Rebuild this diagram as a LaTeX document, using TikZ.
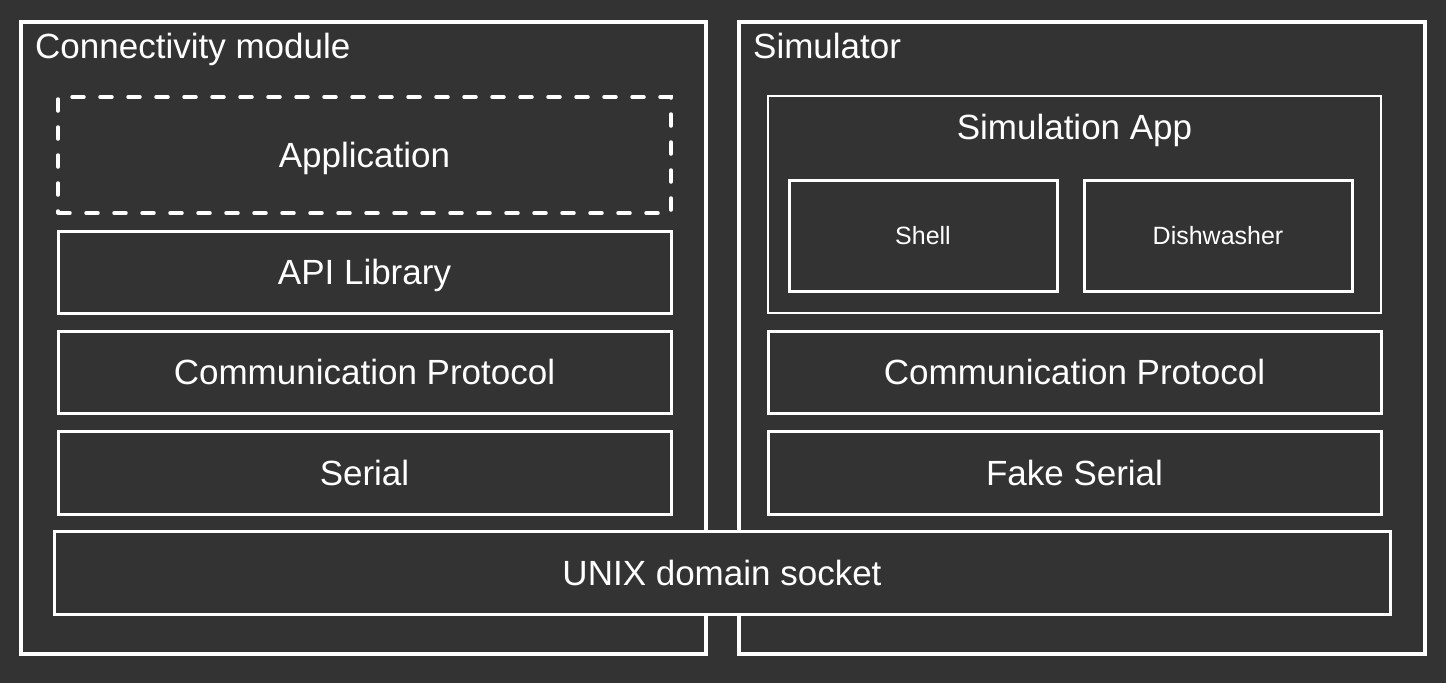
\documentclass[tikz,border=0pt]{standalone}
\usepackage{fontspec}
\setmainfont{Liberation Sans}
\usepackage{tikz}
\usetikzlibrary{positioning,backgrounds}

\definecolor{bgcol}{HTML}{333333}

\tikzset{
	outerbox/.style={draw=white, line width=4pt},
	layer/.style={draw=white, line width=3pt, text=white, inner sep=0pt, outer sep=0pt,
		minimum width=613pt, minimum height=82pt, text height=25pt, text depth=0pt,
		font=\fontsize{35}{40}\selectfont},
	smallbox/.style={layer, minimum width=268pt, minimum height=111pt, text height=18pt,
		font=\fontsize{25}{30}\selectfont},
	title/.style={text=white, inner sep=0pt, font=\fontsize{35}{40}\selectfont}
}

\begin{document}
\begin{tikzpicture}[x=1pt, y=-1pt]
			% background and page size
			\fill[bgcol] (0, 0) rectangle (1446, 683);
			\useasboundingbox (0, 0) rectangle (1446, 683);
			
			% the two outer frames
			\draw[outerbox] (21, 22) rectangle (706, 654);
			\draw[outerbox] (739, 22) rectangle (1425, 654);
			\node[title, anchor=base west] (conntitle) at (35, 58) {Connectivity module};
			\node[title, anchor=base west] (simtitle) at (753, 58) {Simulator};
			
			% connectivity module stack
			\node[layer, dashed, dash pattern=on 12pt off 16pt, line cap=round, line width=3.5pt,
				minimum height=116pt] (application) at (364.5, 155) {Application};
			\node[layer] (apilib) at (364.5, 272) {API Library};
			\node[layer] (commleft) at (364.5, 372) {Communication Protocol};
			\node[layer, minimum height=83pt] (serial) at (364.5, 472.5) {Serial};
			
			% simulator stack
			\node[layer, line width=2.5pt, minimum height=217pt] (simapp) at (1074.5, 204.5) {};
			\node[title, text height=25pt, text depth=0pt] (simapptitle) at (1074.5, 127) {Simulation App};
			\node[smallbox] (shell) at (923, 235.5) {Shell};
			\node[smallbox] (dishwasher) at (1218, 235.5) {Dishwasher};
			\node[layer] (commright) at (1074.5, 372) {Communication Protocol};
			\node[layer, minimum height=83pt] (fakeserial) at (1074.5, 472.5) {Fake Serial};
			
			% shared socket across both frames
			\node[layer, fill=bgcol, minimum width=1336pt, minimum height=83pt] (socket) at (722, 572.5) {UNIX domain socket};
\end{tikzpicture}
\end{document}
